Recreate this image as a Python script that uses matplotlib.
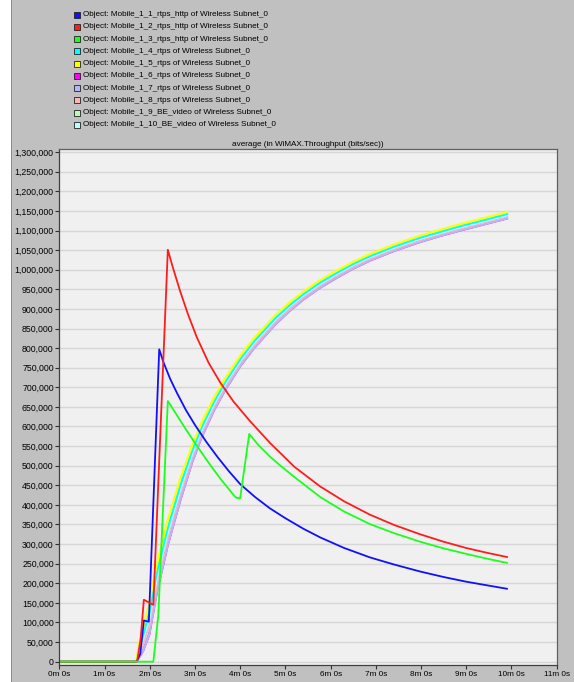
import matplotlib.pyplot as plt
from matplotlib.patches import Rectangle
from matplotlib.ticker import FuncFormatter

plt.rcParams['font.family'] = ['Liberation Sans', 'DejaVu Sans']

# ---- data (time in minutes, throughput in bits/sec) ----
names = [
    "Object: Mobile_1_1_rtps_http of Wireless Subnet_0",
    "Object: Mobile_1_2_rtps_http of Wireless Subnet_0",
    "Object: Mobile_1_3_rtps_http of Wireless Subnet_0",
    "Object: Mobile_1_4_rtps of Wireless Subnet_0",
    "Object: Mobile_1_5_rtps of Wireless Subnet_0",
    "Object: Mobile_1_6_rtps of Wireless Subnet_0",
    "Object: Mobile_1_7_rtps of Wireless Subnet_0",
    "Object: Mobile_1_8_rtps of Wireless Subnet_0",
    "Object: Mobile_1_9_BE_video of Wireless Subnet_0",
    "Object: Mobile_1_10_BE_video of Wireless Subnet_0",
]
colors = ['#1010ff', '#ff1c1c', '#1cff1c', '#00ffff', '#ffff00',
          '#ff00ff', '#b4b4ff', '#ffb4b4', '#b4ffb4', '#b4ffff']

# Mobile_1_1_rtps_http
t1 = [0, 1.71, 1.79, 1.87, 1.98, 2.21, 2.30, 2.45, 2.60, 2.80, 3.00, 3.25, 3.50, 3.75, 4.00,
      4.33, 4.66, 5.00, 5.40, 5.77, 6.30, 6.87, 7.40, 7.98, 8.50, 9.00, 9.45, 9.90]
y1 = [0, 0, 20000, 105000, 102000, 797000, 765000, 722000, 686000, 642000, 604000, 561000,
      522000, 486000, 453000, 420000, 391000, 366000, 339000, 317000, 290000, 266000, 248000,
      230000, 216000, 204000, 195000, 186000]

# Mobile_1_2_rtps_http
t2 = [0, 1.72, 1.80, 1.87, 2.08, 2.40, 2.50, 2.67, 2.85, 3.04, 3.30, 3.56, 3.85, 4.20, 4.66,
      5.20, 5.77, 6.30, 6.87, 7.40, 7.98, 8.50, 9.00, 9.45, 9.90]
y2 = [0, 0, 60000, 158000, 145000, 1051000, 1010000, 946000, 885000, 828000, 763000, 712000,
      664000, 616000, 558000, 497000, 447000, 409000, 375000, 349000, 325000, 306000, 290000,
      278000, 267000]

# Mobile_1_3_rtps_http
t3 = [0, 2.08, 2.19, 2.40, 2.50, 2.67, 2.85, 3.04, 3.30, 3.56, 3.75, 3.87, 3.92, 4.00, 4.20,
      4.40, 4.66, 4.88, 5.20, 5.77, 6.30, 6.87, 7.40, 7.98, 8.50, 9.00, 9.45, 9.90]
y3 = [0, 0, 119000, 665000, 647000, 616000, 584000, 551000, 508000, 467000, 440000, 423000,
      418000, 417000, 581000, 553000, 523000, 501000, 471000, 420000, 383000, 351000, 328000,
      306000, 289000, 275000, 263000, 252000]

# rtps / BE_video bundle, shared time points
tb = [0, 1.71, 1.75, 1.85, 1.99, 2.07, 2.16, 2.40, 2.67, 2.93, 3.15, 3.41, 3.67, 4.00, 4.30,
      4.77, 5.10, 5.40, 5.75, 6.14, 6.50, 6.87, 7.40, 7.98, 8.40, 8.86, 9.40, 9.90]
y4 = [0, 0, 28000, 67000, 125000, 176000, 229000, 342000, 448000, 536000, 599000, 661000,
      714000, 772000, 816500, 876000, 910500, 938000, 966000, 992500, 1015000, 1035000,
      1059000, 1082000, 1096000, 1111000, 1127000, 1142000]
y5 = [0, 0, 38000, 85000, 150000, 200000, 251000, 361000, 465000, 549000, 610000, 671000,
      723000, 780000, 824000, 883000, 917000, 944000, 972000, 998000, 1020000, 1040000,
      1064000, 1087000, 1101000, 1116000, 1132000, 1147000]
y6 = [0, 0, 8000, 27000, 70000, 122000, 179000, 299000, 410000, 507000, 574000, 639000,
      694000, 754000, 799500, 860000, 896000, 924500, 953000, 980000, 1003000, 1023500,
      1048000, 1071000, 1085500, 1100000, 1116000, 1131000]
y7 = [0, 0, 8000, 27000, 70000, 122000, 179000, 299000, 410000, 507000, 574000, 639000,
      694000, 754000, 799500, 860000, 896000, 924500, 953000, 980000, 1003000, 1023500,
      1048000, 1071000, 1085500, 1100000, 1116000, 1131000]
y8 = [0, 0, 16000, 45000, 94000, 146000, 201000, 318000, 427000, 520000, 585000, 649000,
      703000, 762000, 807000, 867000, 902500, 931000, 959000, 986000, 1008500, 1028500,
      1053000, 1076000, 1090500, 1105000, 1121000, 1136000]
y9 = [0, 0, 16000, 45000, 94000, 146000, 201000, 318000, 427000, 520000, 585000, 649000,
      703000, 762000, 807000, 867000, 902500, 931000, 959000, 986000, 1008500, 1028500,
      1053000, 1076000, 1090500, 1105000, 1121000, 1136000]
y10 = [0, 0, 22000, 56000, 110000, 162000, 216000, 331000, 438000, 528000, 592000, 655000,
       709000, 767000, 812000, 872000, 906500, 934500, 962500, 989000, 1012000, 1032000,
       1056000, 1079000, 1093000, 1108000, 1124000, 1139000]

yticks = list(range(0, 1300001, 50000))
xticks = list(range(0, 12))
xticklabels = [f"{m}m 0s" for m in xticks]
title = "average (in WiMAX.Throughput (bits/sec))"

W, H = 574, 682
fig = plt.figure(figsize=(W / 100, H / 100), dpi=100, facecolor='#c0c0c0')

# white strip + edge on the left of the grey panel
fig.patches.append(Rectangle((0, 0), 10.5 / W, 1, transform=fig.transFigure,
                             facecolor='white', edgecolor='none', zorder=0))
fig.patches.append(Rectangle((10.5 / W, 0), 1.2 / W, 1, transform=fig.transFigure,
                             facecolor='#8c8c8c', edgecolor='none', zorder=0))

ax = fig.add_axes([59.3 / W, 17 / H, (556.7 - 59.3) / W, (665 - 149) / H])
ax.set_facecolor('#f0f0f0')

# bundle first (drawn under the http lines)
bundle = [(y6, 5), (y9, 8), (y7, 6), (y8, 7), (y10, 9), (y4, 3), (y5, 4)]
for ys, i in bundle:
    ax.plot(tb, ys, color=colors[i], linewidth=1.6, solid_joinstyle='round')

ax.plot(t1, y1, color=colors[0], linewidth=1.3)
ax.plot(t2, y2, color=colors[1], linewidth=1.3)
ax.plot(t3, y3, color=colors[2], linewidth=1.3)

ax.set_xlim(0, 11)
ax.set_ylim(-8500, 1308000)
ax.set_yticks(yticks)
ax.set_xticks(xticks)
ax.set_xticklabels(xticklabels)
ax.yaxis.set_major_formatter(FuncFormatter(lambda v, p: f"{int(v):,}"))
ax.grid(True, axis='y', color='#d6d6d6', linewidth=1.0)
ax.set_axisbelow(True)
ax.tick_params(axis='y', labelsize=6.3, length=3, width=0.8, pad=1, colors='#303030',
               labelcolor='black')
ax.tick_params(axis='x', labelsize=5.9, length=3, width=0.8, pad=1.5, colors='#303030',
               labelcolor='black')
for s in ['left', 'bottom']:
    ax.spines[s].set_color('#404040')
    ax.spines[s].set_linewidth(0.9)
for s in ['top', 'right']:
    ax.spines[s].set_color('#606060')
    ax.spines[s].set_linewidth(0.9)

ax.set_title(title, fontsize=5.9, pad=2.5)

# legend rows in the grey area above the plot
for i, name in enumerate(names):
    yc = 14.7 + i * 12.25
    fig.patches.append(Rectangle((74 / W, 1 - (yc + 3) / H), 6 / W, 6 / H,
                                 transform=fig.transFigure, facecolor=colors[i],
                                 edgecolor='#202020', linewidth=0.6))
    fig.text(82.7 / W, 1 - yc / H, name, fontsize=5.9, va='center', ha='left')

fig.savefig('out.png', dpi=100, facecolor=fig.get_facecolor())
